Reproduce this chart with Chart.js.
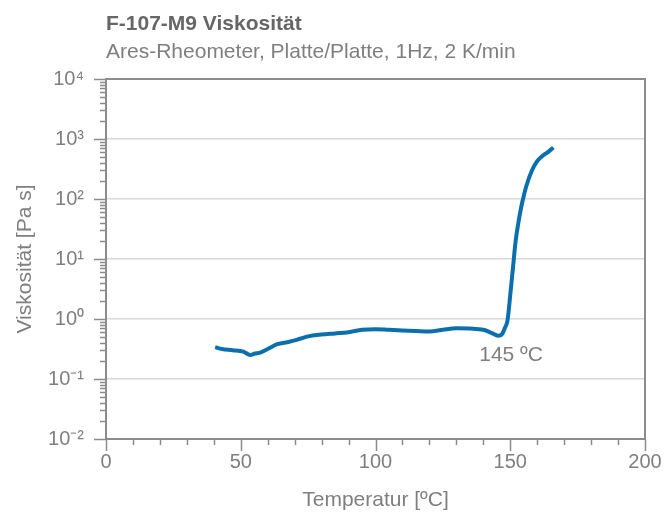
<!DOCTYPE html>
<html>
<head>
<meta charset="utf-8">
<script src="https://cdn.jsdelivr.net/npm/chart.js@4/dist/chart.umd.min.js"></script>
<style>
  html, body { margin: 0; padding: 0; background: #fff; }
  #wrap { width: 670px; height: 518px; }
</style>
</head>
<body>
<div id="wrap"><canvas id="myChart"></canvas></div>
<script>
const temperatur = [40.5, 43, 47, 51, 53.5, 55, 57.5, 60, 63.5, 68, 72, 75, 80, 85, 90, 95, 100, 105, 110, 115, 120, 125, 130, 135, 140, 143, 145.5, 147, 148, 149, 150, 151, 152, 153, 154, 155, 156, 158, 160, 162, 164, 166];
const viskositaet = [0.339, 0.316, 0.302, 0.285, 0.251, 0.263, 0.279, 0.316, 0.380, 0.417, 0.468, 0.513, 0.550, 0.575, 0.603, 0.661, 0.676, 0.661, 0.646, 0.631, 0.617, 0.661, 0.700, 0.692, 0.661, 0.589, 0.525, 0.562, 0.708, 0.955, 2.51, 7.08, 20.0, 39.8, 70.8, 112, 166, 295, 427, 525, 603, 724];
const xTicks = [0, 50, 100, 150, 200];
const yTicks = [0.01, 0.1, 1, 10, 100, 1000, 10000];
const yTickLabels = ['10⁻²', '10⁻¹', '10⁰', '10¹', '10²', '10³', '10⁴'];

const titel = 'F-107-M9 Viskosität';
const untertitel = 'Ares-Rheometer, Platte/Platte, 1Hz, 2 K/min';
const notiz = { text: '145 ºC', x: 150.3, y: 0.25 };

const grau = '#7f7f7f';
const achse = '#8c8c8c';
const schrift = "'Liberation Sans', Arial, sans-serif";

const rahmen = {
  id: 'rahmen',
  afterDraw(chart) {
    const c = chart.ctx, a = chart.chartArea;
    const xs = chart.scales.x, ys = chart.scales.y;
    c.save();
    c.strokeStyle = achse;
    c.lineWidth = 2;
    c.strokeRect(a.left, a.top, a.right - a.left, a.bottom - a.top);
    c.lineWidth = 1.5;
    c.beginPath();
    // x Teilstriche
    for (let t = 0; t <= 200; t += 10) {
      const px = Math.round(xs.getPixelForValue(t)) + 0.5;
      const len = t % 50 === 0 ? 12 : 6;
      c.moveTo(px, a.bottom);
      c.lineTo(px, a.bottom + len);
    }
    // y Teilstriche (log)
    for (let e = -2; e <= 4; e++) {
      const py = Math.round(ys.getPixelForValue(Math.pow(10, e))) + 0.5;
      c.moveTo(a.left - 12, py);
      c.lineTo(a.left, py);
      if (e < 4) {
        for (let m = 2; m <= 9; m++) {
          const pm = Math.round(ys.getPixelForValue(m * Math.pow(10, e))) + 0.5;
          c.moveTo(a.left - 6, pm);
          c.lineTo(a.left, pm);
        }
      }
    }
    c.stroke();
    // Titel
    c.textBaseline = 'middle';
    c.textAlign = 'left';
    c.fillStyle = '#666666';
    c.font = 'bold 21px ' + schrift;
    c.fillText(titel, 106, 24);
    c.fillStyle = grau;
    c.font = '21px ' + schrift;
    c.fillText(untertitel, 106, 52);
    // Notiz
    c.textAlign = 'center';
    c.font = '21px ' + schrift;
    c.fillText(notiz.text, xs.getPixelForValue(notiz.x), ys.getPixelForValue(notiz.y));
    c.restore();
  }
};

const ctx = document.getElementById('myChart');
new Chart(ctx, {
  type: 'line',
  data: {
    datasets: [{
      data: temperatur.map((t, i) => ({ x: t, y: viskositaet[i] })),
      borderColor: '#0b6fad',
      borderWidth: 4,
      pointRadius: 0,
      cubicInterpolationMode: 'monotone',
      fill: false
    }]
  },
  options: {
    responsive: true,
    maintainAspectRatio: false,
    animation: false,
    layout: { padding: { left: 0, right: 25, top: 79, bottom: 0 } },
    plugins: {
      legend: { display: false },
      tooltip: { enabled: false }
    },
    scales: {
      x: {
        type: 'linear',
        min: 0,
        max: 200,
        afterBuildTicks: s => { s.ticks = xTicks.map(v => ({ value: v })); },
        afterFit: s => { s.height = 79; s.paddingLeft = 0; s.paddingRight = 0; },
        grid: { display: false, drawTicks: false },
        border: { display: false },
        ticks: { color: grau, padding: 11, font: { size: 20, family: schrift } },
        title: {
          display: true,
          text: 'Temperatur [ºC]',
          color: grau,
          font: { size: 21, family: schrift },
          padding: { top: 0, bottom: 5 }
        }
      },
      y: {
        type: 'logarithmic',
        min: 0.01,
        max: 10000,
        afterBuildTicks: s => { s.ticks = yTicks.map(v => ({ value: v })); },
        afterFit: s => { s.width = 106; s.paddingTop = 0; s.paddingBottom = 0; },
        grid: { color: '#d9d9d9', lineWidth: 1.5, drawTicks: false },
        border: { display: false },
        ticks: {
          color: grau,
          padding: 22,
          font: { size: 20, family: schrift },
          callback: (v) => yTickLabels[yTicks.indexOf(v)]
        },
        title: {
          display: true,
          text: 'Viskosität [Pa s]',
          color: grau,
          font: { size: 21, family: schrift },
          padding: { top: 13, bottom: 0 }
        }
      }
    }
  },
  plugins: [rahmen]
});
</script>
</body>
</html>
